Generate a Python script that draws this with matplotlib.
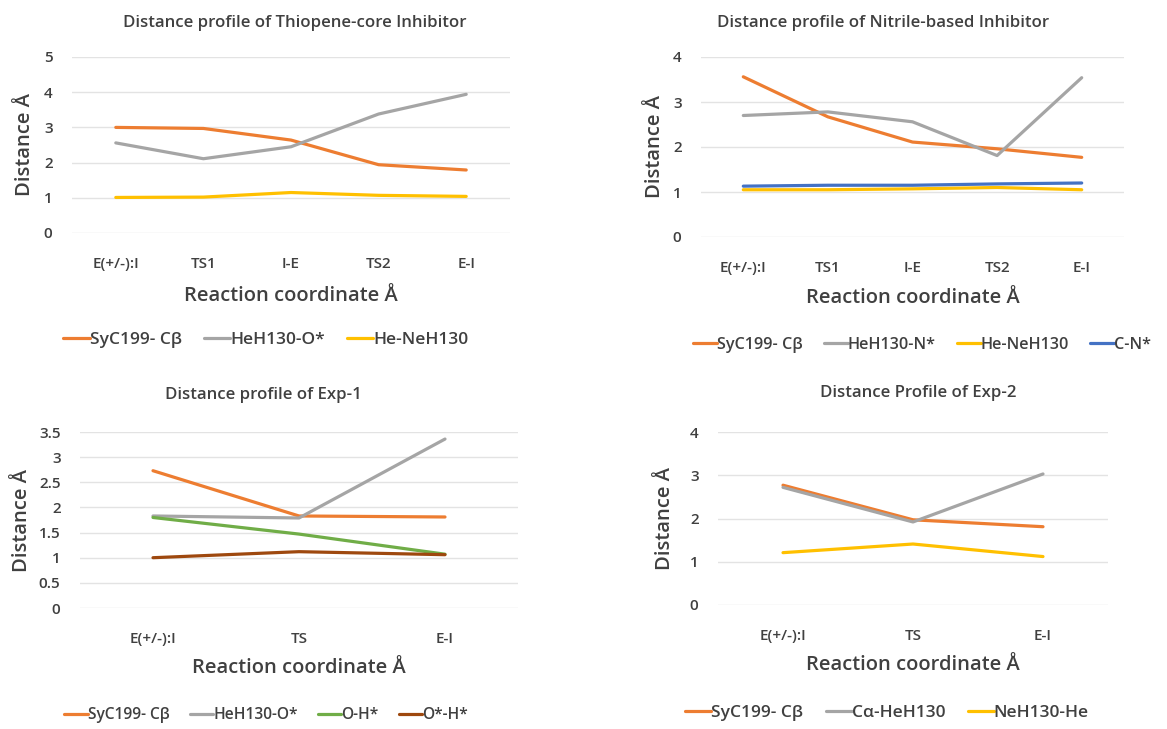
import matplotlib
matplotlib.use("Agg")
import matplotlib.pyplot as plt

plt.rcParams['font.family'] = ['Open Sans', 'DejaVu Sans']
plt.rcParams['font.weight'] = 'semibold'

# ---------------- data ----------------
cats5 = ["E(+/-):I", "TS1", "I-E", "TS2", "E-I"]
cats3 = ["E(+/-):I", "TS", "E-I"]

# Panel 1: Thiopene-core inhibitor
p1_names = ["SyC199- Cβ", "HeH130-O*", "He-NeH130"]
p1_syc = [3.00, 2.97, 2.64, 1.94, 1.79]
p1_heo = [2.56, 2.11, 2.45, 3.38, 3.94]
p1_hen = [1.01, 1.02, 1.15, 1.07, 1.04]

# Panel 2: Nitrile-based inhibitor
p2_names = ["SyC199- Cβ", "HeH130-N*", "He-NeH130", "C-N*"]
p2_syc = [3.56, 2.67, 2.11, 1.96, 1.77]
p2_hen_star = [2.70, 2.78, 2.56, 1.81, 3.54]
p2_hen = [1.05, 1.05, 1.07, 1.10, 1.05]
p2_cn = [1.13, 1.15, 1.15, 1.18, 1.20]

# Panel 3: Exp-1
p3_names = ["SyC199- Cβ", "HeH130-O*", "O-H*", "O*-H*"]
p3_syc = [2.73, 1.83, 1.81]
p3_heo = [1.83, 1.79, 3.36]
p3_oh = [1.80, 1.47, 1.07]
p3_ohs = [1.00, 1.12, 1.06]

# Panel 4: Exp-2
p4_names = ["SyC199- Cβ", "Cα-HeH130", "NeH130-He"]
p4_syc = [2.77, 1.97, 1.81]
p4_cah = [2.72, 1.92, 3.03]
p4_neh = [1.21, 1.41, 1.12]

ORANGE = "#ED7D31"
GRAY = "#A5A5A5"
YELLOW = "#FFC000"
BLUE = "#4472C4"
GREEN = "#70AD47"
BROWN = "#9E480E"
TXT = "#404040"

W, H = 1167, 729
fig = plt.figure(figsize=(W / 100, H / 100), dpi=100)


def fx(px):
    return px / W


def fy(py):
    return 1 - py / H


def make_panel(left, top, right, bottom, cats, series, ylim, yticks, ytlabels,
               title, title_xy, ylab_x, xlab_y, leg_y, leg_x, tick_dy, leg_fs):
    ax = fig.add_axes([fx(left), fy(bottom), fx(right - left), (bottom - top) / H])
    x = list(range(len(cats)))
    handles = []
    for name, vals, col in series:
        h, = ax.plot(x, vals, color=col, lw=2.3, solid_capstyle='round',
                     solid_joinstyle='round', label=name, zorder=3)
        handles.append(h)
    ax.set_xlim(-0.5, len(cats) - 0.5)
    ax.set_ylim(*ylim)
    ax.set_yticks(yticks)
    ax.set_yticklabels(ytlabels)
    ax.set_xticks(x)
    ax.set_xticklabels(cats)
    ax.grid(axis='y', color='#E3E3E3', lw=1.0, zorder=0)
    for s in ax.spines.values():
        s.set_visible(False)
    ax.tick_params(axis='both', length=0, colors=TXT, labelsize=11)
    ax.tick_params(axis='x', pad=tick_dy)
    ax.tick_params(axis='y', pad=14)
    fig.text(fx(title_xy[0]), fy(title_xy[1]), title, ha='center', va='center',
             fontsize=12.1, color=TXT)
    fig.text(fx(ylab_x), fy((top + bottom) / 2), "Distance Å", rotation=90,
             ha='center', va='center', fontsize=14.5, color=TXT)
    fig.text(fx((left + right) / 2), fy(xlab_y), "Reaction coordinate Å",
             ha='center', va='center', fontsize=14.5, color=TXT)
    fig.legend(handles=handles, loc='center', bbox_to_anchor=(fx(leg_x), fy(leg_y)),
               ncol=len(handles), frameon=False, handlelength=1.5,
               handletextpad=0.0, columnspacing=1.3, fontsize=leg_fs,
               labelcolor=TXT)
    return ax


make_panel(72, 57, 510, 233, cats5,
           [(p1_names[0], p1_syc, ORANGE), (p1_names[1], p1_heo, GRAY),
            (p1_names[2], p1_hen, YELLOW)],
           (0, 5), [0, 1, 2, 3, 4, 5], ["0", "1", "2", "3", "4", "5"],
           "Distance profile of Thiopene-core Inhibitor", (295, 23),
           25, 296, 340, 266, 17, 12.5)

make_panel(701, 57, 1124, 237, cats5,
           [(p2_names[0], p2_syc, ORANGE), (p2_names[1], p2_hen_star, GRAY),
            (p2_names[2], p2_hen, YELLOW), (p2_names[3], p2_cn, BLUE)],
           (0, 4), [0, 1, 2, 3, 4], ["0", "1", "2", "3", "4"],
           "Distance profile of Nitrile-based Inhibitor", (883, 23),
           655, 298, 345, 922, 17, 11.6)

make_panel(80, 432, 518, 608, cats3,
           [(p3_names[0], p3_syc, ORANGE), (p3_names[1], p3_heo, GRAY),
            (p3_names[2], p3_oh, GREEN), (p3_names[3], p3_ohs, BROWN)],
           (0, 3.5), [0, 0.5, 1, 1.5, 2, 2.5, 3, 3.5],
           ["0", "0.5", "1", "1.5", "2", "2.5", "3", "3.5"],
           "Distance profile of Exp-1", (263, 395),
           22, 668, 715, 266, 17, 11.2)

make_panel(718, 432, 1108, 605, cats3,
           [(p4_names[0], p4_syc, ORANGE), (p4_names[1], p4_cah, GRAY),
            (p4_names[2], p4_neh, YELLOW)],
           (0, 4), [0, 1, 2, 3, 4], ["0", "1", "2", "3", "4"],
           "Distance Profile of Exp-2", (918, 393),
           665, 665, 713, 887, 17, 12.5)

fig.savefig("out.png", dpi=100, facecolor='white')
